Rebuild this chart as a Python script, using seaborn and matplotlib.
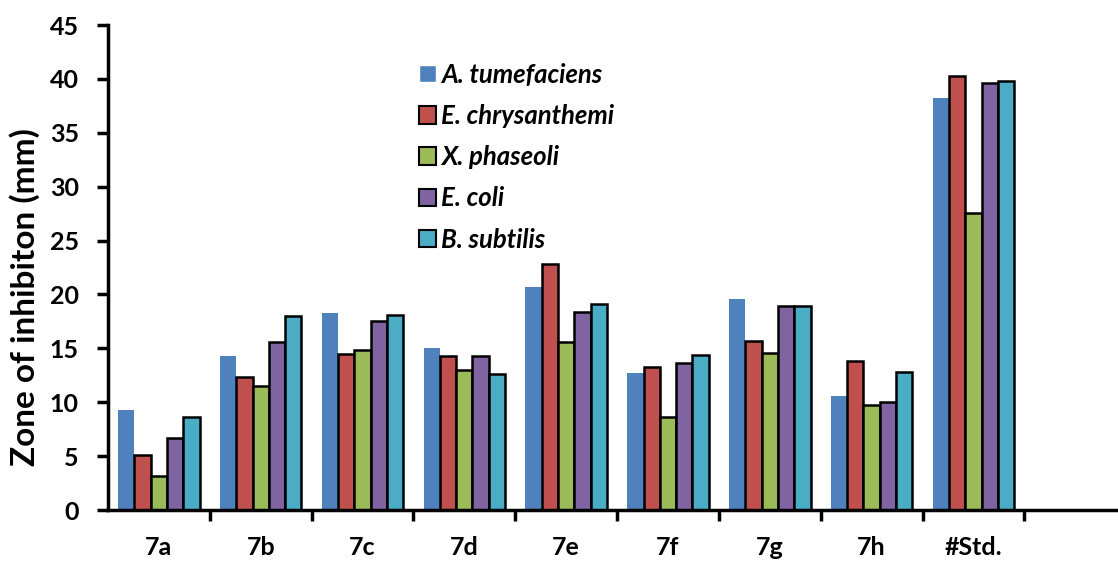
import matplotlib
matplotlib.use("Agg")
import matplotlib.pyplot as plt
import seaborn as sns
import pandas as pd
from matplotlib.ticker import FixedLocator

compounds = ["7a", "7b", "7c", "7d", "7e", "7f", "7g", "7h", "#Std."]
strains = ["A. tumefaciens", "E. chrysanthemi", "X. phaseoli", "E. coli", "B. subtilis"]

a_tumefaciens = [9.3, 14.3, 18.3, 15.0, 20.7, 12.7, 19.6, 10.6, 38.2]
e_chrysanthemi = [5.1, 12.3, 14.5, 14.3, 22.8, 13.3, 15.7, 13.8, 40.3]
x_phaseoli = [3.2, 11.5, 14.8, 13.0, 15.6, 8.6, 14.6, 9.7, 27.6]
e_coli = [6.7, 15.6, 17.5, 14.3, 18.4, 13.6, 18.9, 10.0, 39.6]
b_subtilis = [8.6, 18.0, 18.1, 12.6, 19.1, 14.4, 18.9, 12.8, 39.8]

colors = ["#4F81BD", "#C0504D", "#9BBB59", "#8064A2", "#4BACC6"]

series = [a_tumefaciens, e_chrysanthemi, x_phaseoli, e_coli, b_subtilis]
rows = []
for strain, vals in zip(strains, series):
    for comp, v in zip(compounds, vals):
        rows.append({"Compound": comp, "Strain": strain, "Zone": v})
df = pd.DataFrame(rows)

sns.set_style("white")
plt.rcParams["font.family"] = ["Lato", "DejaVu Sans"]
for key in ["text.color", "axes.labelcolor", "xtick.color", "ytick.color"]:
    plt.rcParams[key] = "black"

fig = plt.figure(figsize=(11.18, 5.61), dpi=100)
ax = fig.add_axes([0.0966, 0.0909, 0.9034, 0.8645])

sns.barplot(data=df, x="Compound", y="Zone", hue="Strain", order=compounds,
            hue_order=strains, palette=colors, width=0.8, gap=0,
            saturation=1, errorbar=None, ax=ax)

# black outlines on every series except the first
for i, container in enumerate(ax.containers):
    for bar in container:
        if i == 0:
            bar.set_edgecolor("none")
            bar.set_linewidth(0)
        else:
            bar.set_edgecolor("black")
            bar.set_linewidth(1.8)

ax.set_ylim(0, 45)
ax.set_yticks(range(0, 46, 5))
ax.set_xlim(-0.5, 9.42)

for side in ["top", "right"]:
    ax.spines[side].set_visible(False)
for side in ["left", "bottom"]:
    ax.spines[side].set_linewidth(2.5)
    ax.spines[side].set_color("black")

ax.tick_params(axis="y", which="major", direction="out", length=8, width=2.5,
               labelsize=18, pad=13, left=True)
for lab in ax.get_yticklabels():
    lab.set_fontweight("bold")

ax.set_xticks(range(len(compounds)))
ax.set_xticklabels(compounds, fontsize=18, fontweight="bold")
ax.tick_params(axis="x", which="major", length=0, pad=19)
ax.xaxis.set_minor_locator(FixedLocator([k + 0.5 for k in range(len(compounds))]))
ax.tick_params(axis="x", which="minor", direction="out", length=8, width=2.5, bottom=True)

ax.set_xlabel("")
ax.set_ylabel("Zone of inhibiton (mm)", fontsize=24, fontweight="bold")
ax.yaxis.set_label_coords(-0.067, 0.44)

handles, labels = ax.get_legend_handles_labels()
leg = ax.legend(handles, labels, loc="upper left", bbox_to_anchor=(0.285, 0.97),
                frameon=False, handlelength=0.66, handleheight=0.66,
                handletextpad=0.2, labelspacing=0.67,
                prop={"style": "italic", "weight": "bold", "size": 18.5})
for h in leg.legend_handles:
    if h.get_facecolor()[:3] != matplotlib.colors.to_rgb(colors[0]):
        h.set_edgecolor("black")
        h.set_linewidth(1.5)

fig.savefig("out.png", dpi=100)
